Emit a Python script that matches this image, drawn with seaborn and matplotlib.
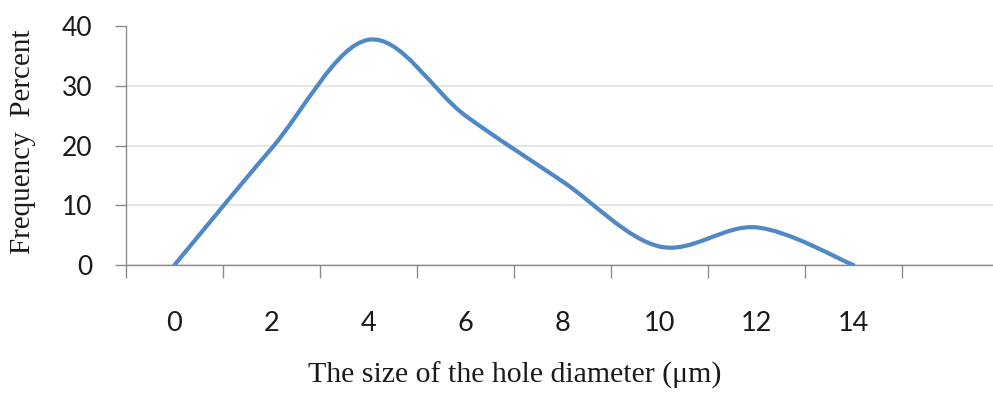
import numpy as np
import matplotlib
matplotlib.use("Agg")
import matplotlib.pyplot as plt
from matplotlib.path import Path
from matplotlib.patches import PathPatch
import seaborn as sns

# ---- data ----
categories = ["0", "2", "4", "6", "8", "10", "12", "14"]
frequency = [0.0, 19.5, 37.7, 25.0, 14.0, 3.1, 6.3, 0.0]
y_ticks = [0, 10, 20, 30, 40]
x_label = "The size of the hole diameter (\u03bcm)"
y_label = "Frequency  Percent"

sns.set_theme(style="white")
plt.rcParams["font.family"] = ["Lato", "DejaVu Sans"]

LINE = "#4f88c6"
SPINE = "#8c8c8c"
GRID = "#e2e2e2"

fig = plt.figure(figsize=(9.93, 3.96), dpi=100)
ax = fig.add_axes([126 / 993, 1 - 265 / 396, 1 - 126 / 993, (265 - 26) / 396])

pos = np.arange(len(categories))
yv = np.asarray(frequency, dtype=float)

# Excel-like smoothed line: cubic Bezier segments (Catmull-Rom control points)
px = np.concatenate([[pos[0]], pos, [pos[-1]]])
py = np.concatenate([[yv[0]], yv, [yv[-1]]])
verts = [(pos[0], yv[0])]
codes = [Path.MOVETO]
for i in range(1, len(px) - 2):
    p0 = np.array([px[i - 1], py[i - 1]])
    p1 = np.array([px[i], py[i]])
    p2 = np.array([px[i + 1], py[i + 1]])
    p3 = np.array([px[i + 2], py[i + 2]])
    c1 = p1 + (p2 - p0) / 6.0
    c2 = p2 - (p3 - p1) / 6.0
    verts += [tuple(c1), tuple(c2), tuple(p2)]
    codes += [Path.CURVE4] * 3
ax.add_patch(PathPatch(Path(verts, codes), facecolor="none", edgecolor=LINE,
                       lw=3.0, capstyle="round", joinstyle="round", zorder=3))
sns.scatterplot(x=pos, y=yv, s=6, color=LINE, edgecolor="none", ax=ax, zorder=4,
                legend=False)

ax.set_xlim(-0.5, 8.44)
ax.set_ylim(0, 40)

# y axis
ax.set_yticks(y_ticks)
ax.set_yticklabels([str(t) for t in y_ticks], fontsize=19, color="#1a1a1a")
ax.tick_params(axis="y", which="major", direction="out", length=8, width=1.0,
               color=SPINE, pad=16, left=True)
ax.yaxis.grid(True, color=GRID, lw=1.2)
ax.set_axisbelow(True)
for gl, t in zip(ax.get_ygridlines(), y_ticks):
    if t == 40:
        gl.set_visible(False)

# x axis: tick marks between categories, labels at categories
ax.set_xticks(np.arange(-0.5, 8.5, 1.0))
ax.set_xticklabels([""] * 9)
ax.tick_params(axis="x", which="major", direction="out", length=9, width=1.0,
               color=SPINE, bottom=True)
ax.set_xticks(pos, minor=True)
ax.set_xticklabels(categories, minor=True, fontsize=19.5, color="#1a1a1a")
ax.tick_params(axis="x", which="minor", length=0, pad=33)
ax.xaxis.grid(False)

sns.despine(ax=ax, top=True, right=True)
for s in ["left", "bottom"]:
    ax.spines[s].set_color(SPINE)
    ax.spines[s].set_linewidth(1.0)

ax.set_xlabel(x_label, fontsize=21.5, family=["Liberation Serif", "DejaVu Serif"],
              color="#1a1a1a")
ax.xaxis.set_label_coords((515 - 126) / 867, (265 - 362) / 239)
ax.xaxis.label.set_va("top")
ax.set_ylabel(y_label, fontsize=21, family=["Liberation Serif", "DejaVu Serif"],
              color="#1a1a1a")
ax.yaxis.set_label_coords((10 - 126) / 867, (265 - 142) / 239)
ax.yaxis.label.set_va("top")

fig.savefig("out.png", dpi=100, facecolor="white")
